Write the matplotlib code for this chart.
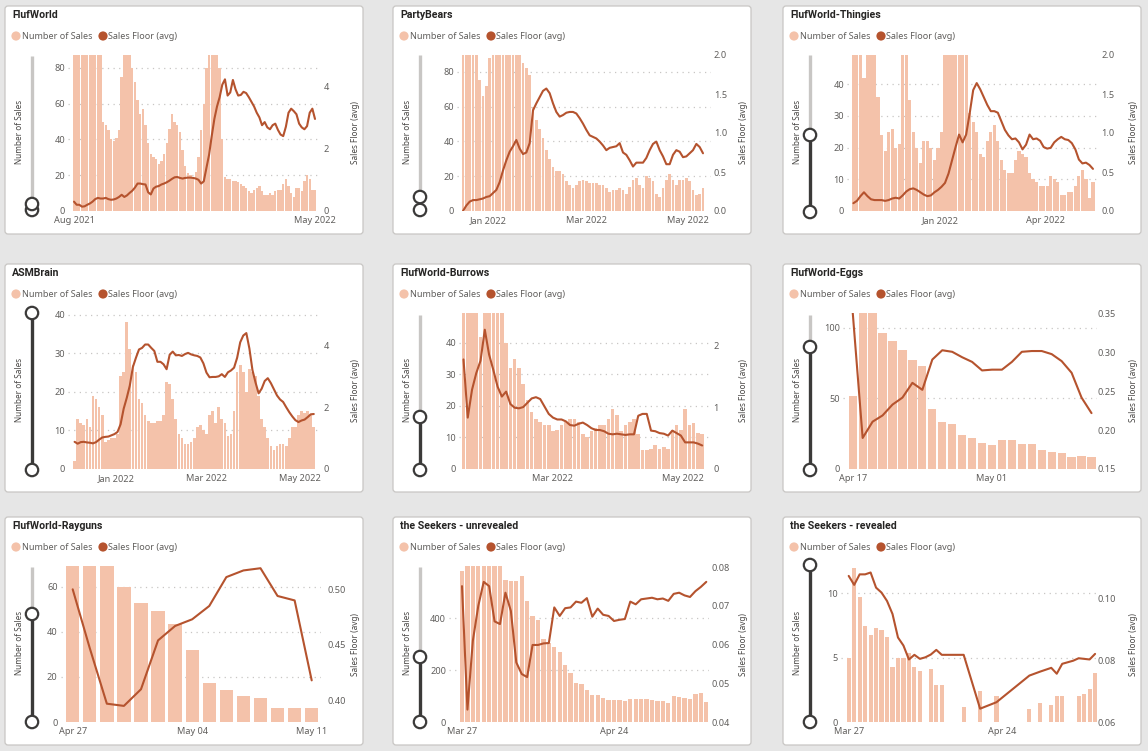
import numpy as np
import pandas as pd
import matplotlib
matplotlib.use('Agg')
import matplotlib.pyplot as plt
import matplotlib.dates as mdates
from matplotlib.patches import FancyBboxPatch, Circle

# ---------------------------------------------------------------- data
series_labels = ['Number of Sales', 'Sales Floor (avg)']

# FlufWorld (3-day samples from 2021-08-01)
flufworld_start, flufworld_step = '2021-08-01', 3
flufworld_sales = [120, 120, 120, 120, 120, 120, 120, 120, 120, 120,
                   110, 50, 48, 45, 40, 39, 41, 45, 75, 120,
                   120, 100, 80, 72, 62, 54, 57, 48, 38, 32,
                   30, 29, 26, 28, 32, 38, 46, 54, 50, 48,
                   44, 34, 25, 21, 20, 19, 22, 30, 45, 60,
                   80, 120, 120, 120, 120, 80, 40, 19, 18, 18,
                   17, 17, 16, 15, 14, 13, 11, 10, 12, 13,
                   14, 11, 9, 9, 10, 9, 11, 12, 12, 15,
                   18, 14, 10, 8, 13, 13, 11, 17, 20, 18,
                   12, 12]
flufworld_floor = [0.3, 0.2, 0.2, 0.14, 0.15, 0.2, 0.24, 0.3, 0.38, 0.42,
                   0.4, 0.4, 0.42, 0.38, 0.36, 0.37, 0.4, 0.45, 0.52, 0.45,
                   0.5, 0.58, 0.65, 0.75, 0.88, 0.88, 0.86, 0.85, 0.6, 0.53,
                   0.72, 0.78, 0.8, 0.85, 0.88, 0.92, 0.97, 1.03, 1.08, 1.09,
                   1.06, 1.04, 1.06, 1.07, 1.07, 1.06, 1.04, 1.0, 0.88, 0.95,
                   1.38, 1.8, 2.4, 2.95, 3.35, 3.65, 4.05, 4.22, 3.7, 3.8,
                   4.2, 3.9, 3.7, 3.72, 3.82, 3.78, 3.65, 3.5, 3.35, 3.15,
                   3.0, 2.75, 2.85, 2.68, 2.62, 2.75, 2.8, 2.6, 2.45, 2.4,
                   2.7, 3.15, 3.28, 3.2, 3.1, 2.8, 2.68, 2.62, 2.72, 3.15,
                   3.28, 2.95]

# PartyBears (2-day samples from 2021-12-17)
partybears_start, partybears_step = '2021-12-17', 2
partybears_sales = [120, 120, 120, 120, 120, 75, 66, 72, 88, 120,
                    120, 120, 120, 120, 120, 120, 120, 120, 85, 82,
                    78, 60, 52, 47, 42, 35, 30, 25, 23, 23,
                    21, 17, 15, 13, 15, 17, 18, 17, 16, 16,
                    16, 15, 15, 13, 11, 12, 12, 13, 12, 10,
                    14, 18, 19, 15, 13, 20, 19, 17, 10, 8,
                    13, 18, 21, 18, 15, 18, 18, 19, 17, 12,
                    9, 10, 13]
partybears_floor = [0.0, 0.07, 0.12, 0.14, 0.14, 0.15, 0.16, 0.18, 0.19, 0.23,
                    0.27, 0.37, 0.52, 0.65, 0.76, 0.83, 0.91, 0.8, 0.73, 0.75,
                    0.87, 1.29, 1.38, 1.46, 1.54, 1.57, 1.51, 1.38, 1.27, 1.21,
                    1.23, 1.26, 1.27, 1.27, 1.25, 1.19, 1.12, 1.04, 0.97, 0.95,
                    0.93, 0.89, 0.84, 0.78, 0.81, 0.82, 0.83, 0.87, 0.75, 0.72,
                    0.65, 0.57, 0.62, 0.62, 0.62, 0.68, 0.78, 0.86, 0.89, 0.78,
                    0.7, 0.6, 0.6, 0.72, 0.78, 0.76, 0.69, 0.70, 0.74, 0.78,
                    0.86, 0.82, 0.74]

# FlufWorld-Thingies (3-day samples from 2021-10-19)
thingies_start, thingies_step = '2021-10-19', 3
thingies_sales = [60, 60, 60, 42, 60, 60, 60, 36, 24, 19,
                  25, 26, 20, 21, 60, 60, 35, 25, 20, 15,
                  22, 22, 20, 16, 20, 25, 60, 60, 60, 60,
                  60, 60, 60, 31, 28, 25, 18, 17, 22, 25,
                  27, 22, 16, 13, 12, 12, 16, 19, 18, 17,
                  12, 10, 9, 8, 8, 8, 11, 10, 9, 5,
                  5, 6, 6, 8, 11, 13, 10, 4, 9]
thingies_floor = [0.10, 0.13, 0.19, 0.24, 0.19, 0.15, 0.14, 0.14, 0.14, 0.13,
                  0.14, 0.16, 0.17, 0.16, 0.2, 0.25, 0.28, 0.29, 0.27, 0.24,
                  0.21, 0.19, 0.2, 0.24, 0.27, 0.31, 0.36, 0.48, 0.65, 0.82,
                  0.98, 0.88, 0.98, 1.25, 1.55, 1.64, 1.56, 1.46, 1.36, 1.28,
                  1.28, 1.26, 1.15, 1.04, 0.97, 0.92, 0.93, 0.88, 0.79, 0.85,
                  0.98, 0.92, 0.93, 0.9, 0.82, 0.8, 0.81, 0.88, 0.92, 0.95,
                  0.92, 0.91, 0.87, 0.79, 0.66, 0.61, 0.62, 0.59, 0.54]

# ASMBrain (2-day samples from 2021-12-05)
asmbrain_start, asmbrain_step = '2021-12-05', 2
asmbrain_sales = [2, 13, 12, 11.5, 13, 11, 19, 18, 16, 14,
                  7, 7.5, 8, 8, 9, 24, 25, 38, 31, 27,
                  25, 18, 17, 14, 12.5, 12, 12, 12.5, 12.5, 14,
                  22.5, 22, 18, 13, 9, 8, 6.5, 6.5, 7, 8,
                  11, 11.5, 10, 9, 14, 15, 12, 16, 13, 12,
                  8.5, 9, 15, 25, 27, 25, 20, 26, 25, 24,
                  19, 13, 11, 8, 6, 5, 6, 6.5, 6.5, 6,
                  8, 11, 11, 14, 15, 14.5, 15, 14, 11]
asmbrain_floor = [0.88, 0.82, 0.87, 0.88, 0.86, 0.85, 0.83, 0.87, 0.95, 1.02,
                  1.04, 1.05, 1.09, 1.13, 1.2, 1.45, 1.95, 2.3, 2.7, 3.3,
                  3.6, 3.87, 3.92, 4.03, 4.03, 3.92, 3.82, 3.47, 3.47, 3.39,
                  3.23, 3.7, 3.8, 3.68, 3.69, 3.66, 3.72, 3.76, 3.71, 3.68,
                  3.66, 3.61, 3.42, 3.12, 2.97, 2.98, 2.98, 3.0, 3.07, 2.98,
                  3.13, 3.19, 3.28, 3.6, 4.1, 4.32, 4.4, 3.9, 3.2, 2.8,
                  2.45, 2.6, 2.85, 2.94, 2.78, 2.58, 2.38, 2.25, 2.17, 2.0,
                  1.84, 1.7, 1.58, 1.52, 1.57, 1.6, 1.68, 1.77, 1.78]

# FlufWorld-Burrows (2-day samples from 2022-01-18)
burrows_start, burrows_step = '2022-01-18', 2
burrows_sales = [60, 60, 60, 60, 42, 60, 60, 60, 60, 60,
                 40, 32, 35, 32, 27, 22, 18, 16, 15, 14,
                 14, 12, 12.5, 14, 15, 16, 16, 15, 11, 10,
                 12, 13, 14, 14, 16, 19, 17, 12, 14, 15,
                 16, 11, 6, 6, 6.5, 7.5, 6.5, 7, 6.5, 12.5,
                 14, 12.5, 19, 14, 14.5, 11.5, 11]
burrows_floor = [1.77, 0.83, 1.28, 1.55, 1.75, 2.25, 1.85, 1.6, 1.33, 1.17,
                 1.25, 1.05, 0.99, 0.98, 1.0, 1.07, 1.14, 1.16, 1.13, 1.01,
                 0.89, 0.83, 0.80, 0.80, 0.77, 0.71, 0.70, 0.73, 0.75, 0.71,
                 0.66, 0.63, 0.63, 0.61, 0.57, 0.56, 0.57, 0.56, 0.55, 0.56,
                 0.56, 0.86, 0.89, 0.89, 0.62, 0.61, 0.58, 0.57, 0.54, 0.62,
                 0.58, 0.54, 0.43, 0.43, 0.43, 0.41, 0.38]

# FlufWorld-Eggs (daily from 2022-04-17)
eggs_start, eggs_step = '2022-04-17', 1
eggs_sales = [51.5, 112, 112, 96.5, 91, 84.6, 77.5, 73.3, 42.8, 33.3, 32.2, 24.1, 21.7,
              18.7, 17.3, 20.6, 20.6, 18.0, 18.0, 13.7, 12.1, 11.3, 8.3, 9.0, 8.7]
eggs_floor = [0.352, 0.190, 0.211, 0.219, 0.233, 0.242, 0.261, 0.252, 0.291, 0.303, 0.301,
              0.294, 0.288, 0.277, 0.278, 0.278, 0.288, 0.301, 0.302, 0.302, 0.298, 0.289,
              0.274, 0.242, 0.222]

# FlufWorld-Rayguns (daily from 2022-04-27)
rayguns_start, rayguns_step = '2022-04-27', 1
rayguns_sales = [75, 75, 75, 60, 53, 49.5, 43.5, 32, 17.5, 14, 11.5, 10.5, 6, 6, 6]
rayguns_floor = [0.500, 0.447, 0.397, 0.395, 0.410, 0.454, 0.467, 0.473, 0.485, 0.511,
                 0.517, 0.519, 0.494, 0.490, 0.418]

# the Seekers - unrevealed (daily from 2022-03-27)
unrevealed_start, unrevealed_step = '2022-03-27', 1
unrevealed_sales = [583, 640, 640, 640, 640, 640, 640, 640, 548, 544,
                    544, 562, 467, 409, 392, 322, 306, 289, 270, 220,
                    189, 152, 145, 123, 104, 103, 94, 86, 84, 84,
                    81, 87, 90, 90, 90, 84, 81, 81, 73, 99,
                    98, 94, 90, 107, 113, 78]
unrevealed_floor = [0.0751, 0.0432, 0.061, 0.070, 0.0762, 0.0751, 0.066, 0.0653, 0.0734, 0.0687,
                    0.0554, 0.0524, 0.0516, 0.0599, 0.0599, 0.0603, 0.0604, 0.0696, 0.0674, 0.0694,
                    0.0696, 0.0711, 0.0708, 0.0720, 0.0672, 0.0693, 0.0677, 0.0674, 0.0661, 0.0664,
                    0.0666, 0.0711, 0.0704, 0.0717, 0.0719, 0.0721, 0.0717, 0.0719, 0.0713, 0.0731,
                    0.0734, 0.0727, 0.0723, 0.0738, 0.0749, 0.0762]

# the Seekers - revealed (daily from 2022-03-27, None = no value)
revealed_start, revealed_step = '2022-03-27', 1
revealed_sales = [5.0, 12.0, 9.7, 7.5, 6.8, 7.3, 7.15, 6.6, 4.25, 5.0,
                  5.0, 5.4, 4.3, 4.0, 0, 4.15, 2.85, 2.85, 0, 0,
                  0, 1.2, 0, 0, 2.45, 0, 0, 2.0, 0, 0,
                  0, 0, 0, 1.0, 0, 1.47, 0, 1.3, 2.0, 2.0,
                  0, 0, 2.0, 2.2, 2.6, 3.8]
revealed_floor = [0.1072, 0.1043, 0.1077, 0.1077, 0.1083, 0.1034, 0.1018, 0.0991, 0.0949, 0.0873,
                  0.0847, 0.0802, 0.0817, 0.0804, 0.0809, 0.0818, 0.0833, 0.0817, None, None,
                  None, 0.0817, None, None, 0.0643, None, None, 0.0664, None, None,
                  None, None, None, 0.0750, None, 0.0763, None, 0.0775, 0.0756, 0.0788,
                  None, 0.0798, 0.0806, 0.0804, 0.0802, 0.0820]

# axis ticks (values & labels)
flufworld_yticks, flufworld_y2ticks = [0, 20, 40, 60, 80], [0, 2, 4]
flufworld_xticks = [('2021-08-01', 'Aug 2021'), ('2022-05-01', 'May 2022')]
partybears_yticks, partybears_y2ticks = [0, 20, 40, 60, 80], [0.0, 0.5, 1.0, 1.5, 2.0]
partybears_xticks = [('2022-01-01', 'Jan 2022'), ('2022-03-01', 'Mar 2022'), ('2022-05-01', 'May 2022')]
thingies_yticks, thingies_y2ticks = [0, 10, 20, 30, 40], [0.0, 0.5, 1.0, 1.5, 2.0]
thingies_xticks = [('2022-01-01', 'Jan 2022'), ('2022-04-01', 'Apr 2022')]
asmbrain_yticks, asmbrain_y2ticks = [0, 10, 20, 30, 40], [0, 2, 4]
asmbrain_xticks = [('2022-01-01', 'Jan 2022'), ('2022-03-01', 'Mar 2022'), ('2022-05-01', 'May 2022')]
burrows_yticks, burrows_y2ticks = [0, 10, 20, 30, 40], [0, 1, 2]
burrows_xticks = [('2022-03-01', 'Mar 2022'), ('2022-05-01', 'May 2022')]
eggs_yticks, eggs_y2ticks = [0, 50, 100], [0.15, 0.20, 0.25, 0.30, 0.35]
eggs_xticks = [('2022-04-17', 'Apr 17'), ('2022-05-01', 'May 01')]
rayguns_yticks, rayguns_y2ticks = [0, 20, 40, 60], [0.40, 0.45, 0.50]
rayguns_xticks = [('2022-04-27', 'Apr 27'), ('2022-05-04', 'May 04'), ('2022-05-11', 'May 11')]
unrevealed_yticks, unrevealed_y2ticks = [0, 200, 400], [0.04, 0.05, 0.06, 0.07, 0.08]
unrevealed_xticks = [('2022-03-27', 'Mar 27'), ('2022-04-24', 'Apr 24')]
revealed_yticks, revealed_y2ticks = [0, 5, 10], [0.06, 0.08, 0.10]
revealed_xticks = [('2022-03-27', 'Mar 27'), ('2022-04-24', 'Apr 24')]

# ---------------------------------------------------------------- style
BAR = '#F4C2AA'
LINE = '#B5532E'
TXT = '#605E5C'
GRID = '#C8C6C4'
FONT = ['Noto Sans', 'DejaVu Sans']
plt.rcParams['font.family'] = FONT
TICK_FS = 6.6
LEG_FS = 6.5
AXT_FS = 5.9

W, H = 1148, 751
PW, PH = 358, 228
COL_X = [5, 393, 783]
ROW_Y = [6, 264, 517]
AX_TOP, AX_BOT = 49, 205

panels = [
    dict(title='FlufWorld', col=0, row=0, start=flufworld_start, step=flufworld_step,
         sales=flufworld_sales, floor=flufworld_floor, yt=flufworld_yticks, y2t=flufworld_y2ticks,
         xt=flufworld_xticks, ylim=(0, 87.2), y2lim=(0, 5.0), fmt='{:.0f}',
         L=63, R=316, padL=3, padR=3, anchors=((0, 69), (1, 310)), slider=(50, 198, 204), bw=0.9),
    dict(title='PartyBears', col=1, row=0, start=partybears_start, step=partybears_step,
         sales=partybears_sales, floor=partybears_floor, yt=partybears_yticks, y2t=partybears_y2ticks,
         xt=partybears_xticks, ylim=(0, 89.6), y2lim=(0, 2.0), fmt='{:.1f}',
         L=64, R=318, padL=3, padR=3, anchors=((0, 95), (2, 295)), slider=(49, 191, 204), bw=0.88),
    dict(title='FlufWorld-Thingies', col=2, row=0, start=thingies_start, step=thingies_step,
         sales=thingies_sales, floor=thingies_floor, yt=thingies_yticks, y2t=thingies_y2ticks,
         xt=thingies_xticks, ylim=(0, 49.2), y2lim=(0, 2.0), fmt='{:.1f}',
         L=64, R=315, padL=3, padR=3, anchors=((0, 157.3), (1, 263)), slider=(49, 129, 206), bw=0.9),
    dict(title='ASMBrain', col=0, row=1, start=asmbrain_start, step=asmbrain_step,
         sales=asmbrain_sales, floor=asmbrain_floor, yt=asmbrain_yticks, y2t=asmbrain_y2ticks,
         xt=asmbrain_xticks, ylim=(0, 40.4), y2lim=(0, 5.05), fmt='{:.0f}',
         L=63, R=316, padL=3, padR=3, anchors=((0, 111), (2, 295)), slider=(49, 49, 206), bw=0.85),
    dict(title='FlufWorld-Burrows', col=1, row=1, start=burrows_start, step=burrows_step,
         sales=burrows_sales, floor=burrows_floor, yt=burrows_yticks, y2t=burrows_y2ticks,
         xt=burrows_xticks, ylim=(0, 49.5), y2lim=(0, 2.52), fmt='{:.0f}',
         L=66, R=317, padL=3, padR=3, anchors=((0, 160), (1, 290)), slider=(51, 153, 206), bw=0.85),
    dict(title='FlufWorld-Eggs', col=2, row=1, start=eggs_start, step=eggs_step,
         sales=eggs_sales, floor=eggs_floor, yt=eggs_yticks, y2t=eggs_y2ticks,
         xt=eggs_xticks, ylim=(0, 110.6), y2lim=(0.15, 0.351), fmt='{:.2f}',
         L=60, R=314, padL=3, padR=1, anchors=((0, 69.7), (1, 209)), slider=(51, 83, 206), bw=0.83),
    dict(title='FlufWorld-Rayguns', col=0, row=2, start=rayguns_start, step=rayguns_step,
         sales=rayguns_sales, floor=rayguns_floor, yt=rayguns_yticks, y2t=rayguns_y2ticks,
         xt=rayguns_xticks, ylim=(0, 69.3), y2lim=(0.3805, 0.521), fmt='{:.2f}',
         L=56, R=316, padL=3.5, padR=7, anchors=((0, 67.7), (2, 306.7)), slider=(50, 97, 205), bw=0.78),
    dict(title='the Seekers - unrevealed', col=1, row=2, start=unrevealed_start, step=unrevealed_step,
         sales=unrevealed_sales, floor=unrevealed_floor, yt=unrevealed_yticks, y2t=unrevealed_y2ticks,
         xt=unrevealed_xticks, ylim=(0, 602), y2lim=(0.04, 0.0803), fmt='{:.2f}',
         L=56, R=316, padL=3, padR=2, anchors=((0, 69), (1, 221)), slider=(50, 140, 205), bw=0.8),
    dict(title='the Seekers - revealed', col=2, row=2, start=revealed_start, step=revealed_step,
         sales=revealed_sales, floor=revealed_floor, yt=revealed_yticks, y2t=revealed_y2ticks,
         xt=revealed_xticks, ylim=(0, 12.14), y2lim=(0.06, 0.1104), fmt='{:.2f}',
         L=58, R=314, padL=3, padR=1, anchors=((0, 65.7), (1, 219)), slider=(48, 48, 205), bw=0.75),
]

fig = plt.figure(figsize=(W / 100, H / 100), dpi=100, facecolor='#E6E6E6')
canvas = fig.add_axes([0, 0, 1, 1])
canvas.set_xlim(0, W)
canvas.set_ylim(H, 0)
canvas.axis('off')
canvas.set_zorder(0)

PT = 0.72  # points per pixel


def px_axes(x0, y0, x1, y1):
    return fig.add_axes([x0 / W, 1 - y1 / H, (x1 - x0) / W, (y1 - y0) / H])


for p in panels:
    px, py = COL_X[p['col']], ROW_Y[p['row']]
    # card
    canvas.add_patch(FancyBboxPatch((px, py), PW, PH,
                                    boxstyle='round,pad=0,rounding_size=3',
                                    fc='white', ec='#C8C6C4', lw=0.9))
    canvas.text(px + 7, py + 9, p['title'], fontsize=7.6, fontweight='bold',
                color='#252423', va='center', ha='left', family=['Roboto', 'DejaVu Sans'])
    # legend
    canvas.add_patch(Circle((px + 11, py + 30), 4.6, fc=BAR, ec='none'))
    canvas.text(px + 16.5, py + 30.5, series_labels[0], fontsize=LEG_FS, color=TXT,
                va='center', ha='left')
    canvas.add_patch(Circle((px + 98, py + 30), 4.6, fc=LINE, ec='none'))
    canvas.text(px + 103.5, py + 30.5, series_labels[1], fontsize=LEG_FS, color=TXT,
                va='center', ha='left')
    # range slider
    sx = px + 27
    ttop, htop, hbot = p['slider']
    if htop > ttop:
        canvas.plot([sx, sx], [py + ttop, py + htop], color='#C8C6C4', lw=2.4,
                    solid_capstyle='butt')
    canvas.plot([sx, sx], [py + htop, py + hbot], color='#3B3A39', lw=2.4,
                solid_capstyle='butt')
    for hy in (hbot, htop):
        canvas.add_patch(Circle((sx, py + hy), 6.2, fc='white', ec='#3B3A39', lw=1.6,
                                zorder=5))
    # axis titles
    canvas.text(px + 15, py + 126, series_labels[0], rotation=90, fontsize=AXT_FS,
                color='#484644', va='center', ha='center')
    canvas.text(px + 350, py + 127, series_labels[1], rotation=90, fontsize=AXT_FS,
                color='#484644', va='center', ha='center')

    # chart
    dates = pd.date_range(p['start'], periods=len(p['sales']), freq=f"{p['step']}D")
    xnum = mdates.date2num(dates)
    tick_nums = mdates.date2num(pd.to_datetime([d for d, _ in p['xt']]))
    (i0, p0), (i1, p1) = p['anchors']
    d0, d1 = tick_nums[i0], tick_nums[i1]
    scale = (d1 - d0) / (p1 - p0)
    L, R = p['L'], p['R']

    ax = px_axes(px + L, py + AX_TOP, px + R, py + AX_BOT)
    ax.set_facecolor('none')
    ax.set_xlim(d0 - (p0 - L) * scale, d1 + (R - p1) * scale)
    ax.set_ylim(*p['ylim'])
    for t in p['yt'][1:]:
        ax.axhline(t, color=GRID, lw=0.9, ls=(0, (1, 3.5)), zorder=0)
    ax.bar(xnum, p['sales'], width=p['step'] * p['bw'], color=BAR, lw=0, zorder=2)
    ax.set_yticks(p['yt'])
    ax.set_yticklabels([str(t) for t in p['yt']])
    ax.set_xticks(tick_nums)
    ax.set_xticklabels([lab for _, lab in p['xt']])
    ax.tick_params(axis='y', length=0, pad=p['padL'] * PT, labelsize=TICK_FS, labelcolor=TXT)
    ax.tick_params(axis='x', length=0, pad=3.6, labelsize=TICK_FS, labelcolor=TXT)
    for s in ax.spines.values():
        s.set_visible(False)

    ax2 = ax.twinx()
    ax2.set_ylim(*p['y2lim'])
    fl = np.array([np.nan if v is None else v for v in p['floor']], dtype=float)
    ok = ~np.isnan(fl)
    ax2.plot(xnum[ok], fl[ok], color=LINE, lw=1.5, solid_joinstyle='round',
             solid_capstyle='round', zorder=3)
    ax2.set_yticks(p['y2t'])
    ax2.set_yticklabels([p['fmt'].format(t) for t in p['y2t']])
    ax2.tick_params(axis='y', length=0, pad=p['padR'] * PT, labelsize=TICK_FS, labelcolor=TXT)
    for s in ax2.spines.values():
        s.set_visible(False)

fig.savefig('out.png', dpi=100, facecolor=fig.get_facecolor())
